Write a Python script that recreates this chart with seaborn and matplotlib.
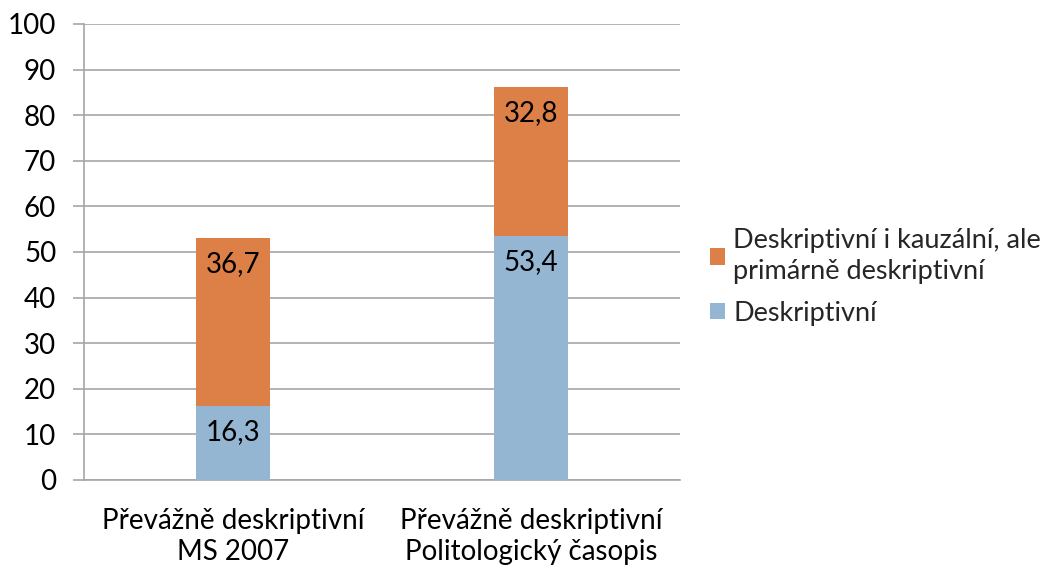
import matplotlib
matplotlib.use("Agg")
import matplotlib.pyplot as plt
import seaborn as sns
import pandas as pd
from matplotlib.patches import Patch

categories = ["Převážně deskriptivní\nMS 2007", "Převážně deskriptivní\nPolitologický časopis"]
descriptive = [16.3, 53.4]
desc_causal = [36.7, 32.8]
series_names = ["Deskriptivní", "Deskriptivní i kauzální, ale\nprimárně deskriptivní"]
yticks = [0, 10, 20, 30, 40, 50, 60, 70, 80, 90, 100]

blue = "#94B6D2"
orange = "#DD8047"

sns.set_theme(style="white")
plt.rcParams["font.family"] = ["Lato", "DejaVu Sans"]

FS = 20

fig = plt.figure(figsize=(10.54, 5.67), dpi=100)
ax = fig.add_axes([84/1054, 1-480/567, (680-84)/1054, (480-24)/567])

df = pd.DataFrame({
    "cat": categories,
    "blue": descriptive,
    "orange": desc_causal,
})
df["total"] = df["blue"] + df["orange"]

sns.barplot(data=df, x="cat", y="total", color=orange, saturation=1, width=0.245, ax=ax,
            zorder=3, linewidth=0)
sns.barplot(data=df, x="cat", y="blue", color=blue, saturation=1, width=0.245, ax=ax,
            zorder=3, linewidth=0)

ax.set_xlim(-0.5, 1.5)
ax.set_ylim(0, 100)
ax.set_yticks(yticks)
ax.set_yticklabels([str(t) for t in yticks], fontsize=FS, color="black")
ax.yaxis.grid(True, color="#A6A6A6", linewidth=1.2, zorder=0)
ax.set_axisbelow(True)
ax.tick_params(axis="y", length=8, color="#A6A6A6", width=1.2, pad=12, left=True)
ax.tick_params(axis="x", length=0, pad=20)
ax.set_xticks([0, 1])
ax.set_xticklabels(categories, fontsize=FS, color="black", linespacing=1.25)
ax.set_xlabel("")
ax.set_ylabel("")
for s in ["top", "right"]:
    ax.spines[s].set_visible(False)
for s in ["left", "bottom"]:
    ax.spines[s].set_color("#A6A6A6")
    ax.spines[s].set_linewidth(1.2)

for i in range(len(categories)):
    b = descriptive[i]
    o = desc_causal[i]
    ax.annotate(f"{b:.1f}".replace(".", ","), (i, b), xytext=(0, -26), textcoords="offset pixels",
                ha="center", va="center", fontsize=FS, color="black", zorder=5)
    ax.annotate(f"{o:.1f}".replace(".", ","), (i, b + o), xytext=(0, -26), textcoords="offset pixels",
                ha="center", va="center", fontsize=FS, color="black", zorder=5)

handles = [Patch(facecolor=orange, edgecolor="none"), Patch(facecolor=blue, edgecolor="none")]
leg = fig.legend(handles, [series_names[1], series_names[0]], loc="center left",
                 bbox_to_anchor=(710/1054, 1-277/567), frameon=False, fontsize=19.5,
                 borderpad=0, borderaxespad=0,
                 handlelength=0.55, handleheight=0.55, handletextpad=0.3, labelspacing=0.62)
for t in leg.get_texts():
    t.set_linespacing(1.3)

fig.savefig("out.png", dpi=100)
